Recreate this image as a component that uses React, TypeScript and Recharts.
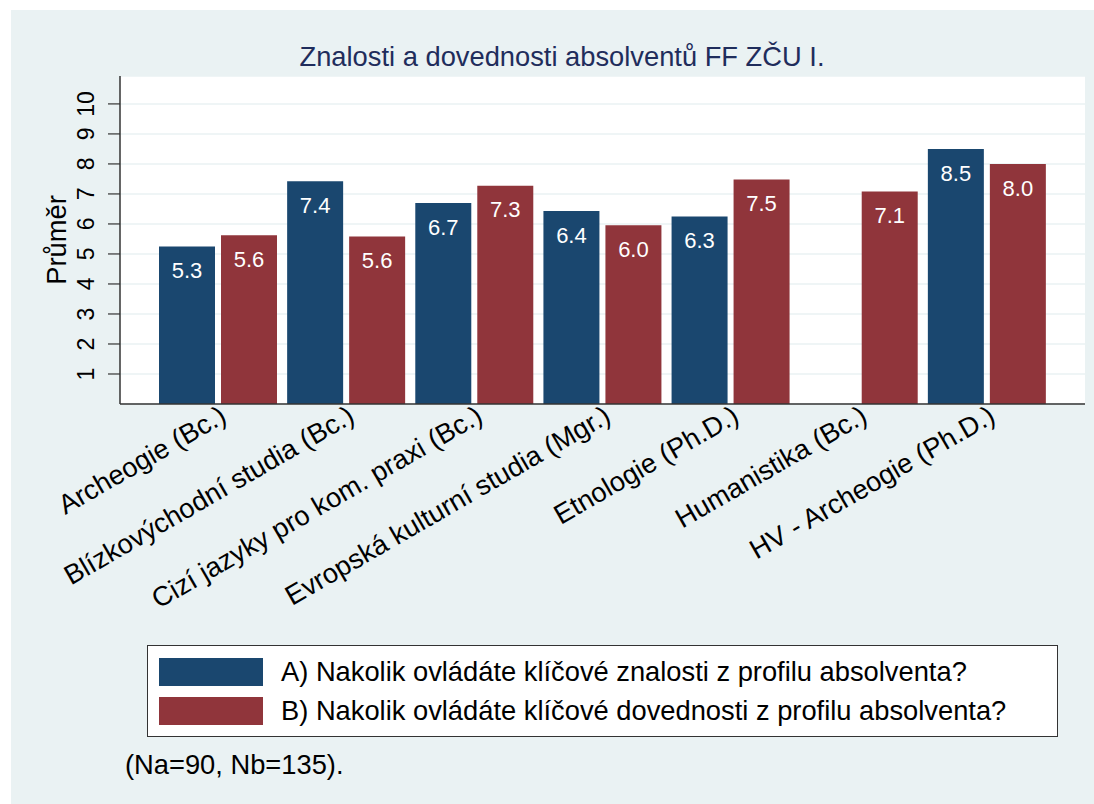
import React, { useEffect } from 'react';
import { BarChart, Bar, XAxis, YAxis, CartesianGrid, LabelList } from 'recharts';

const categories = [
  'Archeogie (Bc.)',
  'Blízkovýchodní studia (Bc.)',
  'Cizí jazyky pro kom. praxi (Bc.)',
  'Evropská kulturní studia (Mgr.)',
  'Etnologie (Ph.D.)',
  'Humanistika (Bc.)',
  'HV - Archeogie (Ph.D.)',
];

// A) znalosti, B) dovednosti
const seriesA = [5.25, 7.42, 6.7, 6.43, 6.25, null, 8.5];
const seriesB = [5.62, 5.58, 7.27, 5.96, 7.48, 7.08, 8.0];

const yTicks = [1, 2, 3, 4, 5, 6, 7, 8, 9, 10];

const legendLabels = [
  'A) Nakolik ovládáte klíčové znalosti z profilu absolventa?',
  'B) Nakolik ovládáte klíčové dovednosti z profilu absolventa?',
];

const BLUE = '#1a476f';
const RED = '#90353b';
const BG = '#eaf2f3';
const FONT = '"Liberation Sans", Arial, sans-serif';
const TXT = 27.3;

const data = categories.map((name, i) => ({ name, a: seriesA[i], b: seriesB[i] }));

const fmt = (v: any) => (v == null ? '' : Number(v).toFixed(1));

const XTick = ({ x, y, payload }: any) => (
  <text
    x={x + 10}
    y={y + 17}
    textAnchor="end"
    transform={`rotate(-30, ${x + 10}, ${y + 17})`}
    fontSize={TXT}
    fontFamily={FONT}
    fill="#000"
  >
    {payload.value}
  </text>
);

const YTick = ({ x, y, payload }: any) => (
  <text
    x={x - 22}
    y={y}
    textAnchor="middle"
    dominantBaseline="central"
    transform={`rotate(-90, ${x - 22}, ${y})`}
    fontSize={23}
    fontFamily={FONT}
    fill="#000"
  >
    {payload.value}
  </text>
);

const App: React.FC = () => {
  // page background = graph region colour, so nothing white shows past the edges
  useEffect(() => {
    document.documentElement.style.background = BG;
    document.body.style.margin = '0';
    document.body.style.background = BG;
  }, []);

  return (
    <div style={{ position: 'fixed', left: 0, top: 0, width: 1094, height: 804, background: BG, fontFamily: FONT }}>
      {/* white outer frame on the left and top */}
      <div style={{ position: 'absolute', left: 0, top: 0, width: 11, height: 804, background: '#fff' }} />
      <div style={{ position: 'absolute', left: 0, top: 0, width: 1094, height: 10, background: '#fff' }} />

      <div style={{ position: 'absolute', left: 0, width: 1124, top: 40, textAlign: 'center', fontSize: TXT, color: '#1f2d5c', lineHeight: '34px' }}>
        Znalosti a dovednosti absolventů FF ZČU I.
      </div>

      <div style={{ position: 'absolute', left: 0, top: 0 }}>
        <BarChart
          width={1094}
          height={804}
          data={data}
          margin={{ top: 76, right: 9, bottom: 200, left: 60 }}
          barCategoryGap={5}
          barGap={6}
        >
          <CartesianGrid vertical={false} fill="#fff" stroke={BG} strokeWidth={1.5} />
          <XAxis
            dataKey="name"
            interval={0}
            height={200}
            padding={{ left: 34, right: 34 }}
            tickLine={false}
            tickSize={0}
            tickMargin={0}
            axisLine={{ stroke: '#333', strokeWidth: 1.5 }}
            tick={<XTick />}
          />
          <YAxis
            width={60}
            domain={[0, 10.93]}
            ticks={yTicks}
            allowDataOverflow
            tickSize={12}
            tickMargin={0}
            tickLine={{ stroke: '#333', strokeWidth: 1.2 }}
            axisLine={{ stroke: '#333', strokeWidth: 1.5 }}
            tick={<YTick />}
          />
          <Bar dataKey="a" fill={BLUE} isAnimationActive={false}>
            <LabelList dataKey="a" position="insideTop" offset={16} fill="#fff" fontSize={22} fontFamily={FONT} formatter={fmt} />
          </Bar>
          <Bar dataKey="b" fill={RED} isAnimationActive={false}>
            <LabelList dataKey="b" position="insideTop" offset={16} fill="#fff" fontSize={22} fontFamily={FONT} formatter={fmt} />
          </Bar>
        </BarChart>
      </div>

      <div style={{ position: 'absolute', left: 57, top: 240, transform: 'translate(-50%, -50%) rotate(-90deg)', fontSize: TXT, color: '#000', whiteSpace: 'nowrap' }}>
        Průměr
      </div>

      <div style={{ position: 'absolute', left: 147, top: 645, width: 909, height: 90, background: '#fff', border: '1px solid #333' }}>
        {legendLabels.map((label, i) => (
          <div key={label} style={{ position: 'absolute', left: 11, top: 12 + i * 39, height: 28, display: 'flex', alignItems: 'center' }}>
            <div style={{ width: 104, height: 28, background: i === 0 ? BLUE : RED }} />
            <div style={{ marginLeft: 18, fontSize: TXT, color: '#000', whiteSpace: 'nowrap' }}>{label}</div>
          </div>
        ))}
      </div>

      <div style={{ position: 'absolute', left: 125, top: 748, fontSize: TXT, color: '#000', lineHeight: '34px' }}>
        (Na=90, Nb=135).
      </div>
    </div>
  );
};

export default App;
